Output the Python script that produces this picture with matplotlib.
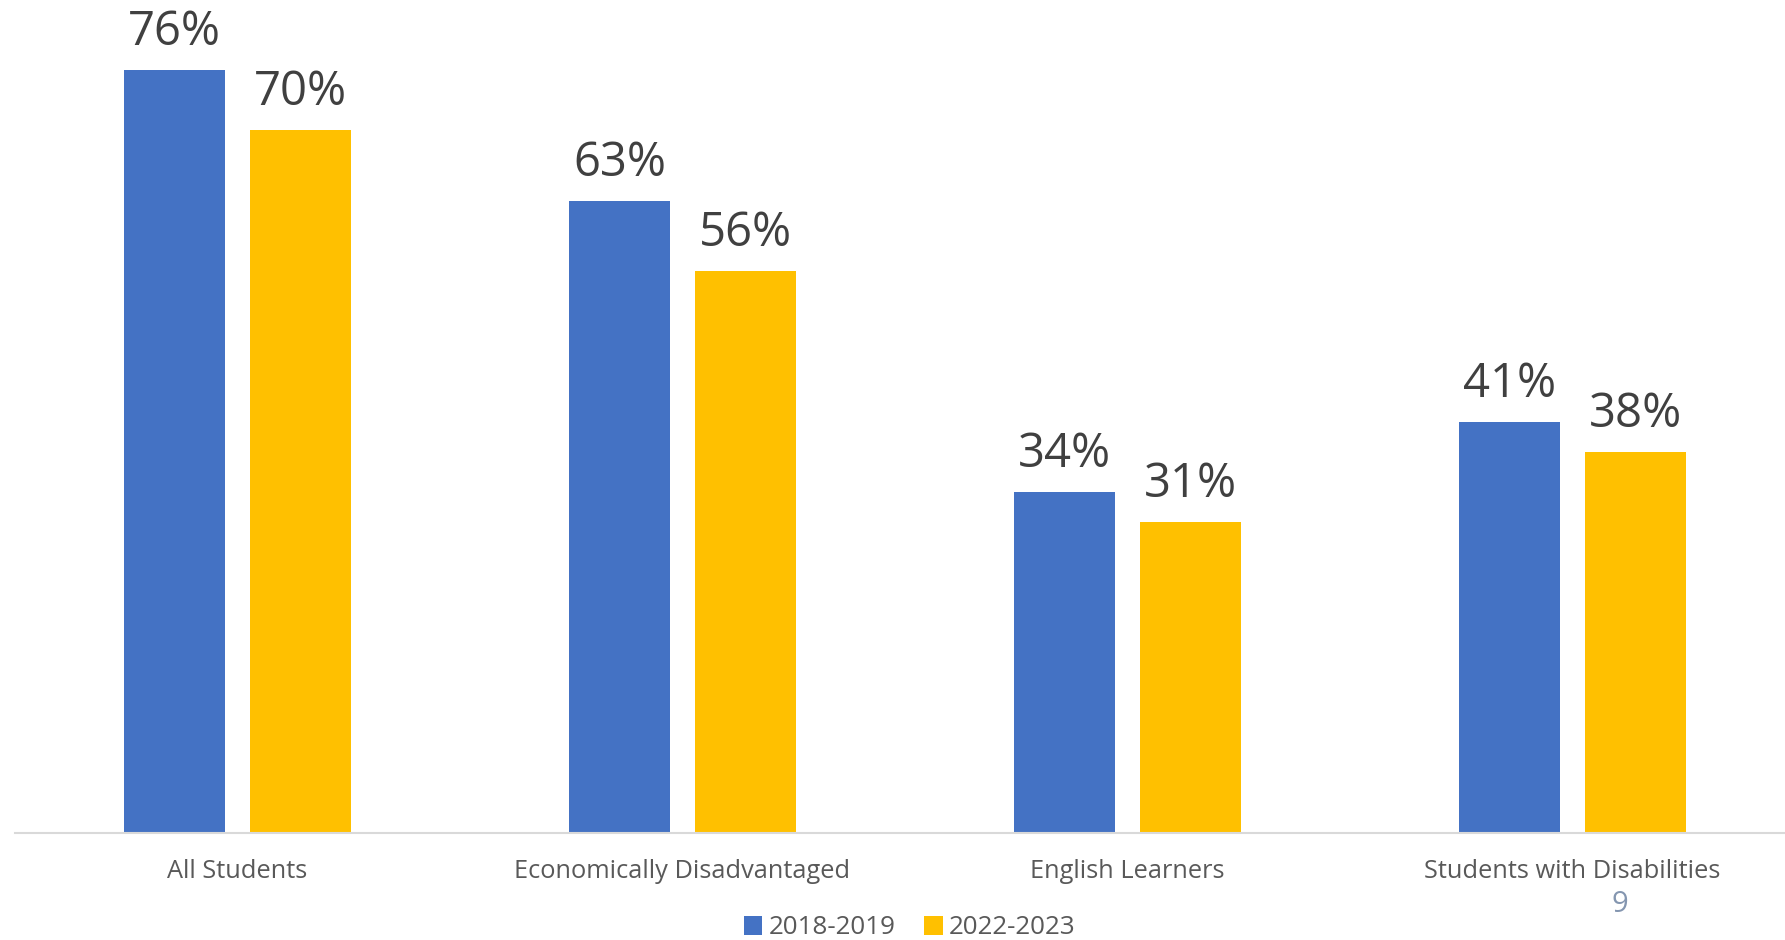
import matplotlib.pyplot as plt
import numpy as np

# Values per student group
groups = ['All Students', 'Economically Disadvantaged', 'English Learners',
          'Students with Disabilities']
years = ['2018-2019', '2022-2023']
vals_2019 = [76, 63, 34, 41]
vals_2023 = [70, 56, 31, 38]

colors = ['#4472C4', '#FFC000']

plt.rcParams['font.family'] = ['Open Sans', 'DejaVu Sans']

fig = plt.figure(figsize=(17.85, 9.4), dpi=100)
ax = fig.add_axes([15 / 1785, 107 / 940, 1780 / 1785, 833 / 940])

x = np.arange(len(groups))
w = 0.225
off = 0.1416

b1 = ax.bar(x - off, vals_2019, w, color=colors[0], label=years[0])
b2 = ax.bar(x + off, vals_2023, w, color=colors[1], label=years[1])

for bars, vals in ((b1, vals_2019), (b2, vals_2023)):
    for bar, v in zip(bars, vals):
        ax.annotate(f'{v}%', (bar.get_x() + bar.get_width() / 2, v),
                    xytext=(0, 18), textcoords='offset points',
                    ha='center', va='baseline', fontsize=34, color='#404040')

ax.set_xlim(-0.5, 3.5)
ax.set_ylim(0, 83)
ax.set_xticks(x)
ax.set_xticklabels(groups, fontsize=18.3, color='#595959')
ax.tick_params(axis='x', length=0, pad=19)
ax.set_yticks([])
for s in ['top', 'right', 'left']:
    ax.spines[s].set_visible(False)
ax.spines['bottom'].set_color('#D9D9D9')
ax.spines['bottom'].set_linewidth(1.5)

fig.legend(loc='center', bbox_to_anchor=(910 / 1785, 1 - 928 / 940), ncol=2,
           frameon=False, fontsize=18.7, labelcolor='#595959',
           handlelength=0.7, handleheight=0.7, handletextpad=0.25,
           columnspacing=1.1, borderpad=0.1)

fig.text(1620 / 1785, 1 - 905 / 940, '9', fontsize=21, color='#8496B0',
         ha='center', va='center')

fig.savefig('out.png', dpi=100)
